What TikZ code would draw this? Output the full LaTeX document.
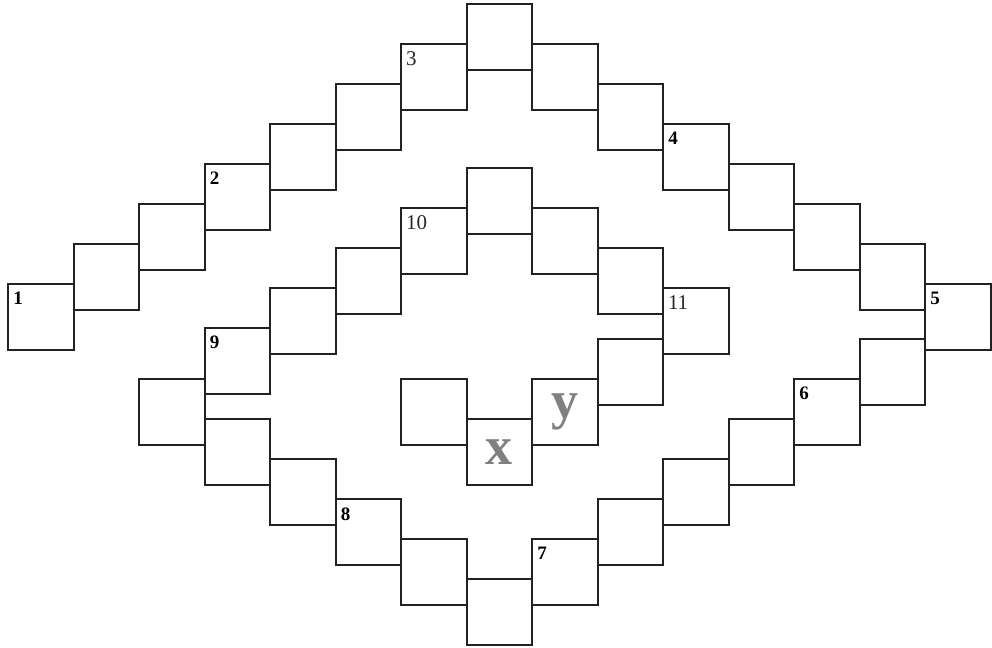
\documentclass[tikz,border=0pt]{standalone}
\usepackage{fontspec}
\setmainfont{Liberation Serif}
\definecolor{edgegray}{RGB}{34,34,34}
\definecolor{lettergray}{RGB}{128,128,128}
\tikzset{
	cell/.style={draw=edgegray, line width=1pt, minimum size=32.75pt, inner sep=0pt},
	boldnum/.style={anchor=north west, inner xsep=3pt, inner ysep=4.5pt, text=black, font=\fontsize{9.5}{11}\selectfont\bfseries},
	plainnum/.style={anchor=north west, inner xsep=2.8pt, inner ysep=4.2pt, text=black!85, font=\fontsize{10.5}{12}\selectfont},
	letter/.style={text=lettergray, font=\fontsize{27}{30}\selectfont\bfseries}
}
\begin{document}
\begin{tikzpicture}[x=0.5pt, y=-0.5pt]
		\useasboundingbox (0,0) rectangle (992,648);
		% outer ring, upper half
		\node[cell, label={[boldnum]north west:1}] (a1) at (40.75,316.75) {};
		\node[cell] (a2) at (106.25,276.75) {};
		\node[cell] (a3) at (171.75,236.75) {};
		\node[cell, label={[boldnum]north west:2}] (a4) at (237.25,196.75) {};
		\node[cell] (a5) at (302.75,156.75) {};
		\node[cell] (a6) at (368.25,116.75) {};
		\node[cell, label={[plainnum]north west:3}] (a7) at (433.75,76.75) {};
		\node[cell] (a8) at (499.25,36.75) {};
		\node[cell] (a9) at (564.75,76.75) {};
		\node[cell] (a10) at (630.25,116.75) {};
		\node[cell, label={[boldnum]north west:4}] (a11) at (695.75,156.75) {};
		\node[cell] (a12) at (761.25,196.75) {};
		\node[cell] (a13) at (826.75,236.75) {};
		\node[cell] (a14) at (892.25,276.75) {};
		\node[cell, label={[boldnum]north west:5}] (a15) at (957.75,316.75) {};
		% outer ring, lower half
		\node[cell] (a16) at (892.25,371.75) {};
		\node[cell, label={[boldnum]north west:6}] (a17) at (826.75,411.75) {};
		\node[cell] (a18) at (761.25,451.75) {};
		\node[cell] (a19) at (695.75,491.75) {};
		\node[cell] (a20) at (630.25,531.75) {};
		\node[cell, label={[boldnum]north west:7}] (a21) at (564.75,571.75) {};
		\node[cell] (a22) at (499.25,611.75) {};
		\node[cell] (a23) at (433.75,571.75) {};
		\node[cell, label={[boldnum]north west:8}] (a24) at (368.25,531.75) {};
		\node[cell] (a25) at (302.75,491.75) {};
		\node[cell] (a26) at (237.25,451.75) {};
		\node[cell] (a27) at (171.75,411.75) {};
		% inner ring
		\node[cell, label={[boldnum]north west:9}] (b1) at (237.25,360.75) {};
		\node[cell] (b2) at (302.75,320.75) {};
		\node[cell] (b3) at (368.25,280.75) {};
		\node[cell, label={[plainnum]north west:10}] (b4) at (433.75,240.75) {};
		\node[cell] (b5) at (499.25,200.75) {};
		\node[cell] (b6) at (564.75,240.75) {};
		\node[cell] (b7) at (630.25,280.75) {};
		\node[cell, label={[plainnum]north west:11}] (b8) at (695.75,320.75) {};
		% centre
		\node[cell] (b9) at (630.25,371.75) {};
		\node[cell, letter] (celly) at (564.75,411.75) {y};
		\node[cell, letter] (cellx) at (499.25,451.75) {x};
		\node[cell] (b10) at (433.75,411.75) {};
	\end{tikzpicture}
\end{document}
